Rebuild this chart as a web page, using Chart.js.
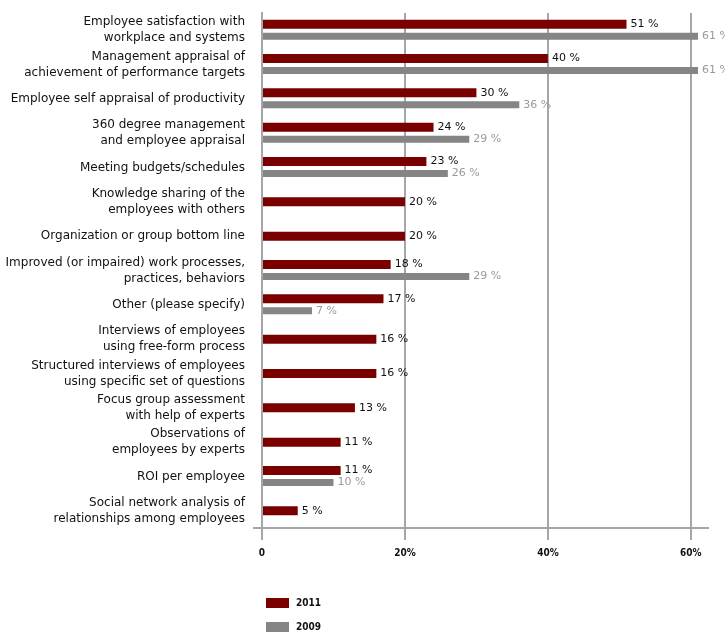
<!DOCTYPE html>
<html>
<head>
<meta charset="utf-8">
<script src="https://cdn.jsdelivr.net/npm/chart.js@4"></script>
<style>
  html, body { margin: 0; padding: 0; background: #fff; }
  canvas { display: block; }
</style>
</head>
<body>
<canvas id="measureChart" width="725" height="632"></canvas>
<script>
const categories = [
  ['Employee satisfaction with', 'workplace and systems'],
  ['Management appraisal of', 'achievement of performance targets'],
  'Employee self appraisal of productivity',
  ['360 degree management', 'and employee appraisal'],
  'Meeting budgets/schedules',
  ['Knowledge sharing of the', 'employees with others'],
  'Organization or group bottom line',
  ['Improved (or impaired) work processes,', 'practices, behaviors'],
  'Other (please specify)',
  ['Interviews of employees', 'using free-form process'],
  ['Structured interviews of employees', 'using specific set of questions'],
  ['Focus group assessment', 'with help of experts'],
  ['Observations of', 'employees by experts'],
  'ROI per employee',
  ['Social network analysis of', 'relationships among employees']
];

const values2011 = [51, 40, 30, 24, 23, 20, 20, 18, 17, 16, 16, 13, 11, 11, 5];
const values2009 = [61, 61, 36, 29, 26, null, null, 29, 7, null, null, null, null, 10, null];

const xTicks = [0, 20, 40, 60];

const gridGray = '#a3a7ac';

// labels at the end of each bar
const barLabels = {
  id: 'barLabels',
  afterDatasetsDraw(chart) {
    const ctx = chart.ctx;
    ctx.save();
    ctx.font = '11px "DejaVu Sans"';
    ctx.textBaseline = 'middle';
    ctx.textAlign = 'left';
    chart.data.datasets.forEach((ds, i) => {
      const meta = chart.getDatasetMeta(i);
      ctx.fillStyle = i === 0 ? '#111' : '#9a9a9a';
      meta.data.forEach((bar, j) => {
        const v = ds.data[j];
        if (v === null) return;
        ctx.fillText(v + ' %', bar.x + 4, bar.y);
      });
    });
    ctx.restore();
  }
};

// legend in the bottom left corner, one entry per row
const sideLegend = {
  id: 'sideLegend',
  afterDraw(chart) {
    const ctx = chart.ctx;
    const area = chart.chartArea;
    ctx.save();
    // little stub of the x axis to the left of the y axis
    ctx.strokeStyle = gridGray;
    ctx.lineWidth = 2;
    ctx.beginPath();
    ctx.moveTo(area.left - 9, area.bottom);
    ctx.lineTo(area.left, area.bottom);
    ctx.stroke();

    ctx.font = 'bold 10px "DejaVu Sans Condensed"';
    ctx.textBaseline = 'middle';
    chart.data.datasets.forEach((ds, i) => {
      const y = 598 + i * 24;
      ctx.fillStyle = ds.backgroundColor;
      ctx.fillRect(266, y, 23, 10);
      ctx.fillStyle = '#111';
      ctx.fillText(ds.label, 296, y + 5);
    });
    ctx.restore();
  }
};

new Chart(document.getElementById('measureChart'), {
  type: 'bar',
  data: {
    labels: categories,
    datasets: [
      {
        label: '2011',
        data: values2011,
        backgroundColor: '#7a0000',
        maxBarThickness: 9
      },
      {
        label: '2009',
        data: values2009,
        backgroundColor: '#858585',
        maxBarThickness: 7
      }
    ]
  },
  options: {
    indexAxis: 'y',
    responsive: false,
    animation: false,
    skipNull: true,
    categoryPercentage: 0.7,
    barPercentage: 1,
    layout: { padding: { top: 13, right: 17, left: 0, bottom: 0 } },
    plugins: {
      legend: { display: false },
      tooltip: { enabled: false }
    },
    scales: {
      x: {
        min: 0,
        max: 62.4,
        afterFit(scale) {
          scale.height = 104;
          scale.paddingLeft = 0;
          scale.paddingRight = 0;
        },
        afterBuildTicks(scale) { scale.ticks = xTicks.map((v) => ({ value: v })); },
        border: { display: true, color: gridGray, width: 2 },
        grid: { color: gridGray, lineWidth: 2, tickLength: 12 },
        ticks: {
          padding: 7,
          color: '#111',
          font: { family: 'DejaVu Sans Condensed', size: 10, weight: 'bold' },
          callback: (v) => v === 0 ? '0' : v + '%'
        }
      },
      y: {
        afterFit(scale) {
          scale.width = 262;
          scale.paddingTop = 0;
          scale.paddingBottom = 0;
        },
        border: { display: true, color: gridGray, width: 2 },
        grid: { display: false, drawTicks: false },
        ticks: {
          autoSkip: false,
          padding: 17,
          color: '#111',
          font: { family: 'DejaVu Sans', size: 12, lineHeight: '16px' }
        }
      }
    }
  },
  plugins: [barLabels, sideLegend]
});
</script>
</body>
</html>
